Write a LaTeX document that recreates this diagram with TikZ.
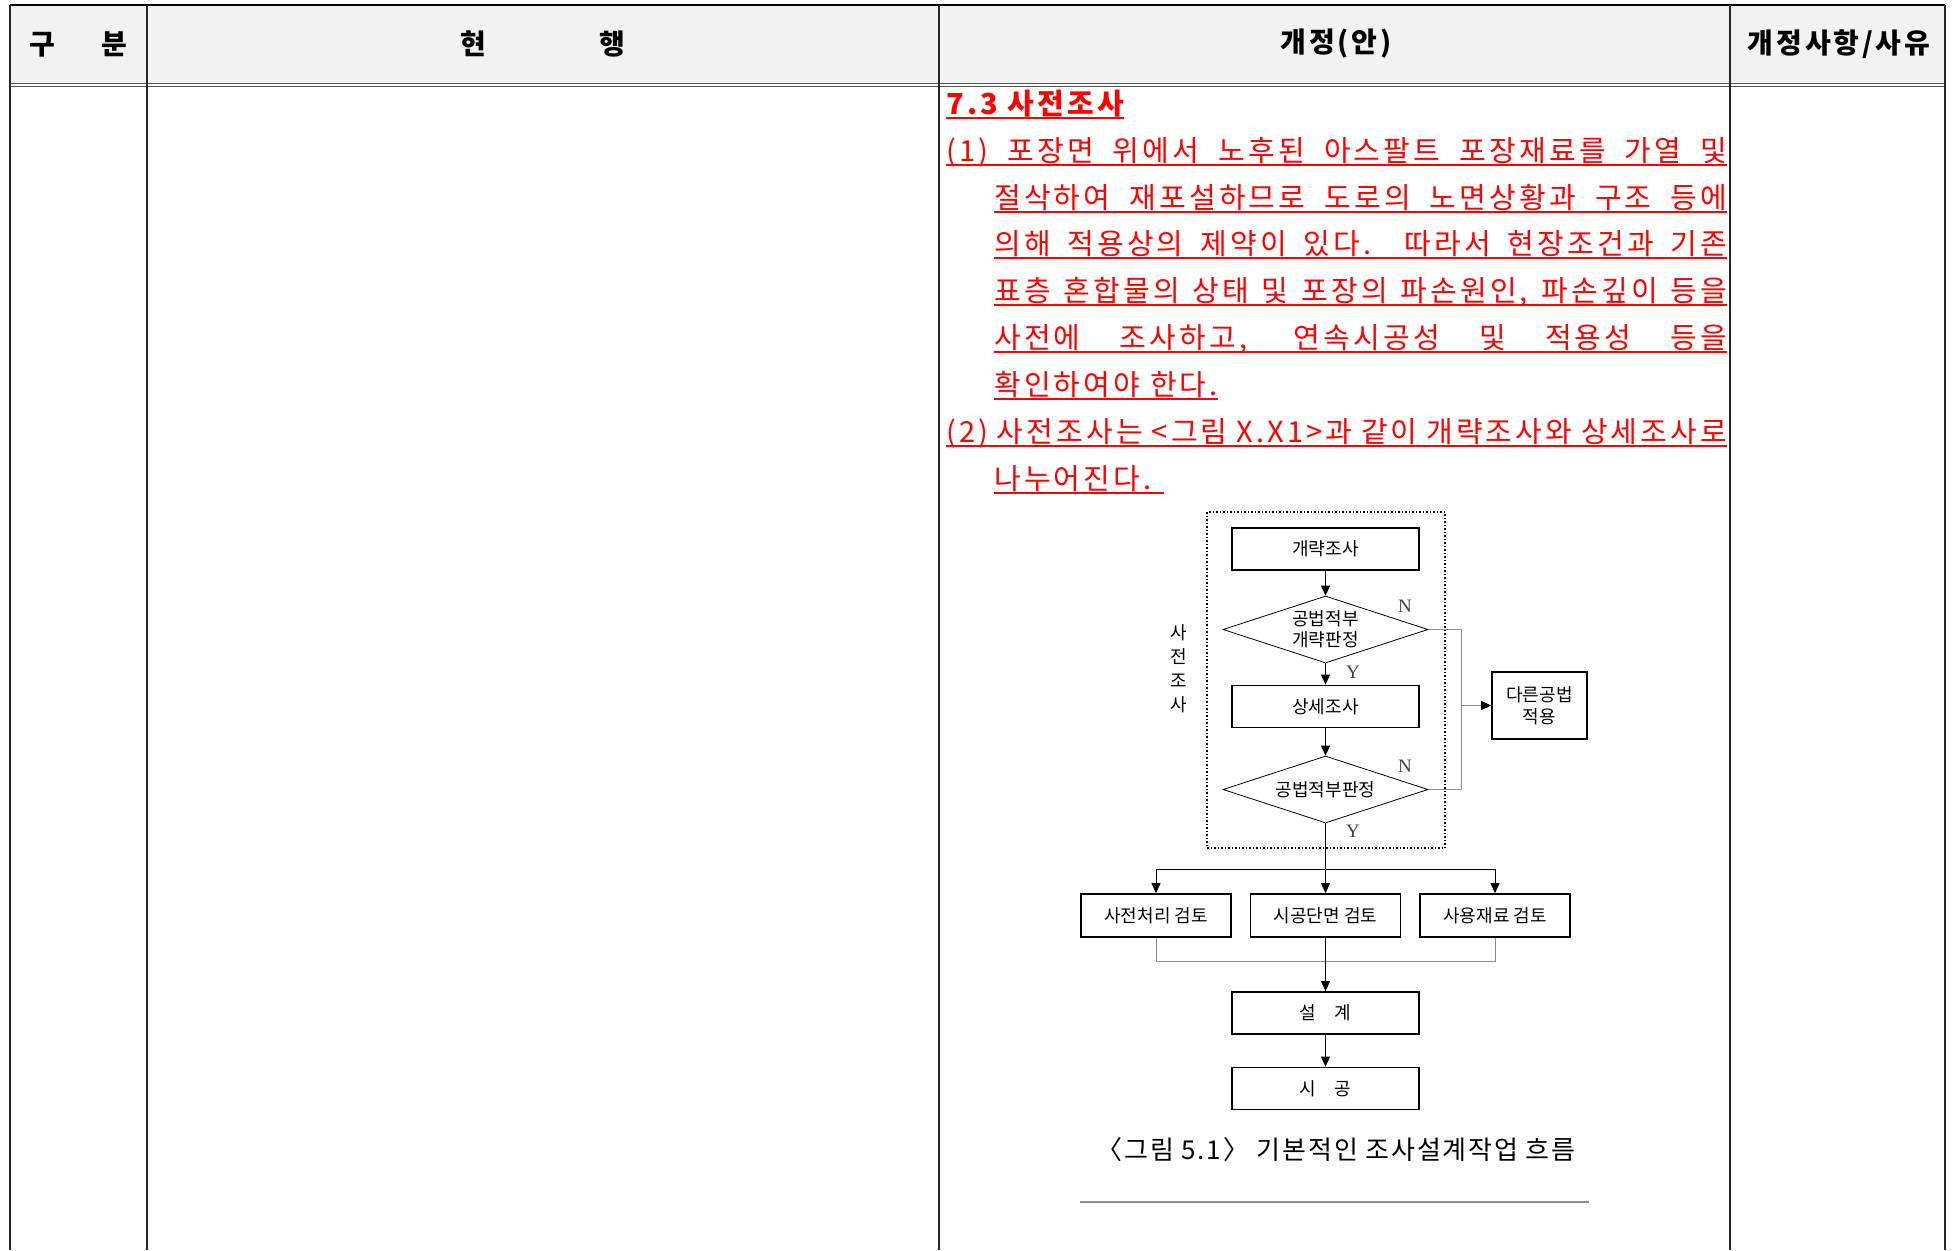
\documentclass[tikz,border=0pt]{standalone}
\usepackage{fontspec}
\setmainfont{Noto Sans CJK KR}
\newfontfamily\bodyfont{Noto Sans CJK KR}[LetterSpace=11]
\newfontfamily\headfont{Noto Sans CJK KR}[LetterSpace=10]
\newfontfamily\capfont{Noto Sans CJK KR}[LetterSpace=7]
\newfontfamily\ynfont{Liberation Serif}
\usetikzlibrary{arrows.meta,shapes.geometric}

\definecolor{headGray}{HTML}{F2F2F2}
\definecolor{ruleGray}{HTML}{555555}
\definecolor{lineGray}{HTML}{8C8C8C}
\definecolor{pureRed}{HTML}{FF0000}

\tikzset{
    redtxt/.style={anchor=base west, inner sep=0pt, text=pureRed, font=\bodyfont\fontsize{29}{29}\selectfont},
    uline/.style={pureRed, line width=1.3pt},
    headtxt/.style={inner sep=0pt, font=\headfont\fontsize{28}{28}\selectfont\bfseries},
    procbox/.style={draw, line width=1.8pt, minimum width=187pt, minimum height=42pt, inner sep=0pt, font=\fontsize{18}{22}\selectfont},
    revbox/.style={procbox, minimum width=150pt, minimum height=43pt},
    decision/.style={diamond, draw, line width=0.8pt, aspect=3, minimum width=205pt, minimum height=67pt, inner sep=0pt, align=center, font=\fontsize{18}{21}\selectfont},
    yn/.style={inner sep=0pt, text=black!75, font=\ynfont\fontsize{19}{19}\selectfont},
    arr/.style={line width=0.9pt, -{Triangle[length=10pt,width=9pt,color=black]}},
    garr/.style={lineGray, line width=0.9pt},
}

\begin{document}
\begin{tikzpicture}[x=1pt, y=-1pt]
    \useasboundingbox (0,0) rectangle (1956,1250);

    \fill[headGray] (10,5) rectangle (1945,83);
    \draw[black, line width=2pt] (10,5) -- (1945,5);
    \draw[ruleGray, line width=1pt] (10,83) -- (1945,83);
    \draw[ruleGray, line width=1pt] (10,86) -- (1945,86);
    \draw[black!85, line width=1.3pt] (10,5) -- (10,1250);
    \draw[black!85, line width=1.3pt] (147,5) -- (147,1250);
    \draw[black!85, line width=1.3pt] (939,5) -- (939,1250);
    \draw[black!85, line width=1.3pt] (1730,5) -- (1730,1250);
    \draw[black!85, line width=1.3pt] (1945,5) -- (1945,1250);

    \node[headtxt] (hsort) at (78.5,44) {구\hspace{46pt}분};
    \node[headtxt] (hnow) at (543,44) {현\hspace{113pt}행};
    \node[headtxt] (hnew) at (1336,44) {개정(안)};
    \node[headtxt] (hwhy) at (1839,44) {개정사항/사유};

    \node[redtxt] (title) at (946,114) {\bfseries 7.3 사전조사};
    \node[redtxt] (l1) at (946,161) {\makebox[781pt][s]{(1) 포장면 위에서 노후된 아스팔트 포장재료를 가열 및}};
    \node[redtxt] (l2) at (994,208) {\makebox[733pt][s]{절삭하여 재포설하므로 도로의 노면상황과 구조 등에}};
    \node[redtxt] (l3) at (994,254) {\makebox[733pt][s]{의해 적용상의 제약이 있다. 따라서 현장조건과 기존}};
    \node[redtxt] (l4) at (994,301) {\makebox[733pt][s]{표층 혼합물의 상태 및 포장의 파손원인, 파손깊이 등을}};
    \node[redtxt] (l5) at (994,348) {\makebox[733pt][s]{사전에 조사하고, 연속시공성 및 적용성 등을}};
    \node[redtxt] (l6) at (994,395) {확인하여야 한다.};
    \node[redtxt] (l7) at (946,442) {\makebox[781pt][s]{(2) 사전조사는 <그림 X.X1>과 같이 개략조사와 상세조사로}};
    \node[redtxt] (l8) at (994,489) {\makebox[170pt][l]{나누어진다.}};
    \foreach \n in {title,l1,l2,l3,l4,l5,l6,l7,l8}
        \draw[uline] ([yshift=-4pt]\n.base west) -- ([yshift=-4pt]\n.base east);

    \draw[black, line width=1.5pt, dotted] (1207,512) rectangle (1445,848);
    \node[inner sep=0pt, align=center, font=\fontsize{18}{24}\selectfont] (survlbl) at (1179,669) {사\\전\\조\\사};

    \node[procbox] (rough) at (1325.5,549) {개략조사};
    \node[decision] (dec1) at (1325.5,629.5) {공법적부\\개략판정};
    \node[procbox] (detail) at (1325.5,706.5) {상세조사};
    \node[decision] (dec2) at (1325.5,789.5) {공법적부판정};
    \node[procbox, minimum width=95pt, minimum height=67pt, align=center] (other) at (1539.5,705.5) {다른공법\\적용};
    \node[yn] (n1) at (1405,606) {N};
    \node[yn] (y1) at (1353,672) {Y};
    \node[yn] (n2) at (1405,766) {N};
    \node[yn] (y2) at (1353,831) {Y};
    \coordinate (nbus) at (1461,705.5);

    \draw[arr] (rough) -- (dec1);
    \draw[arr] (dec1) -- (detail);
    \draw[arr] (detail) -- (dec2);
    \draw[garr] (dec1.east) -| (nbus) |- (dec2.east);
    \draw[garr, -{Triangle[length=10pt,width=9pt,color=black]}] (nbus) -- (other.west);

    \coordinate (split) at (1325.5,869);
    \node[revbox] (pre) at (1156,915.5) {사전처리 검토};
    \node[revbox] (sect) at (1325.5,915.5) {시공단면 검토};
    \node[revbox] (mat) at (1495,915.5) {사용재료 검토};
    \coordinate (merge) at (1325.5,961);
    \node[procbox] (design) at (1325.5,1013) {설\quad 계};
    \node[procbox] (build) at (1325.5,1088.5) {시\quad 공};

    \draw[line width=0.9pt] (dec2) -- (split);
    \draw[arr] (split) -| (pre);
    \draw[arr] (split) -- (sect);
    \draw[arr] (split) -| (mat);
    \draw[garr] (pre) |- (merge);
    \draw[garr] (mat) |- (merge);
    \draw[arr] (sect) -- (design);
    \draw[arr] (design) -- (build);

    \node[inner sep=0pt, font=\capfont\fontsize{26}{26}\selectfont] (cap) at (1336,1150) {〈그림 5.1〉 기본적인 조사설계작업 흐름};
    \draw[lineGray, line width=2pt] (1080,1202) -- (1589,1202);
\end{tikzpicture}
\end{document}
